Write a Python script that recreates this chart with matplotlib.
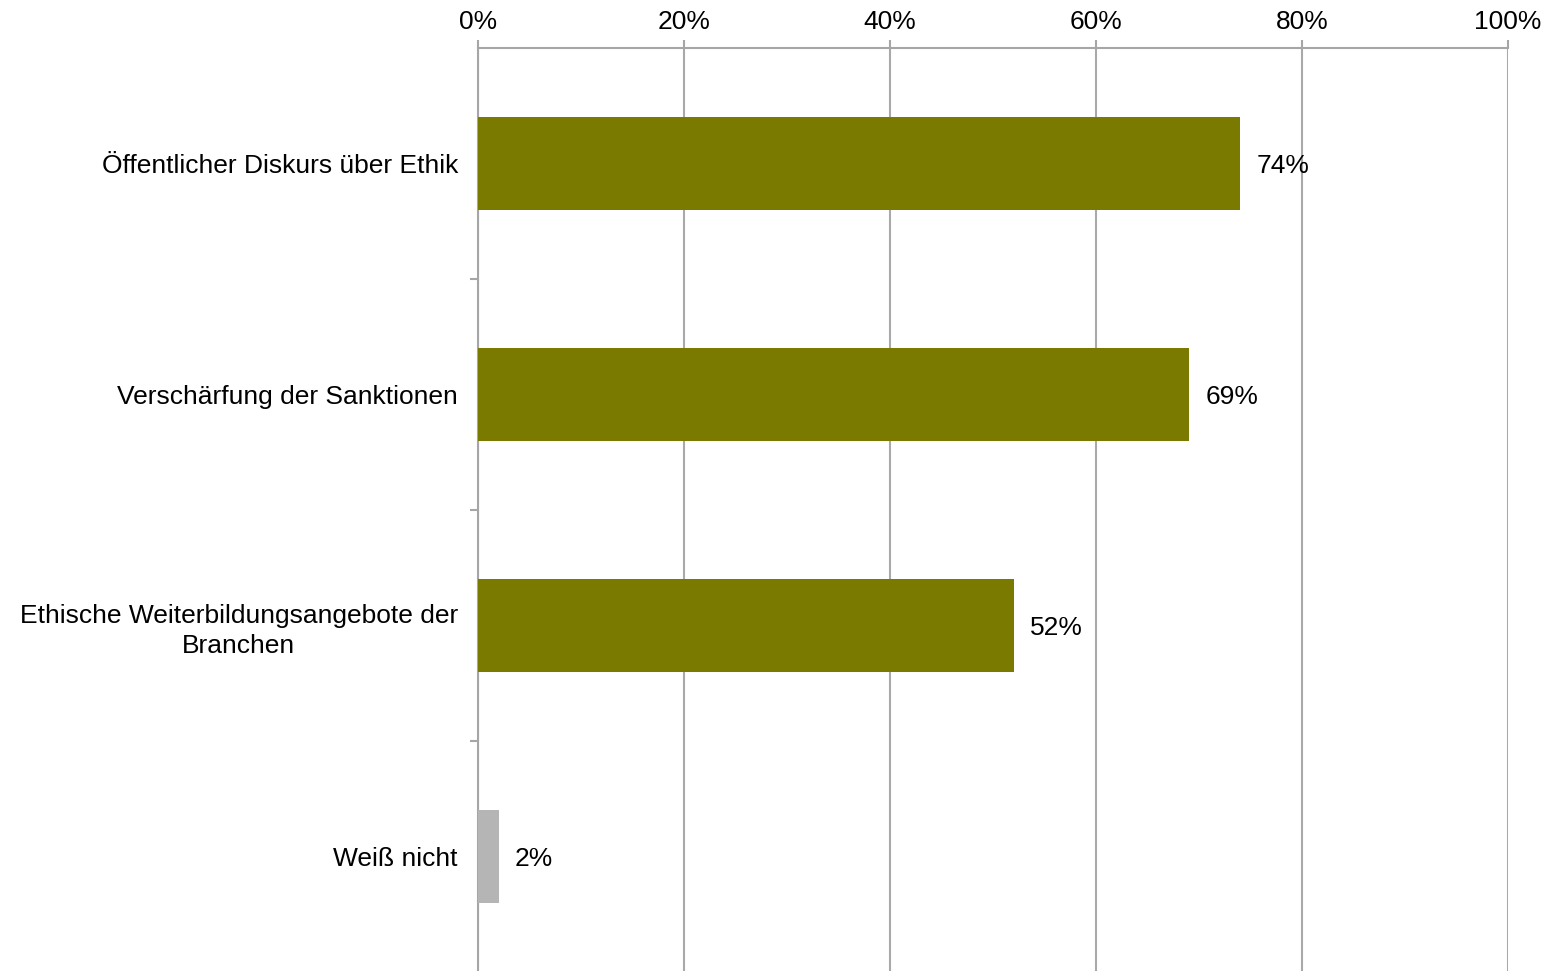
import matplotlib.pyplot as plt
from matplotlib.ticker import FixedLocator

plt.rcParams['font.family'] = ['Liberation Sans', 'DejaVu Sans']

# Antworten (von oben nach unten) und Anteile in Prozent
categories = ['Öffentlicher Diskurs über Ethik',
              'Verschärfung der Sanktionen',
              'Ethische Weiterbildungsangebote der\nBranchen',
              'Weiß nicht']
values = [74, 69, 52, 2]
colors = ['#7a7a00', '#7a7a00', '#7a7a00', '#b5b5b5']
xticks = [0, 20, 40, 60, 80, 100]

fig = plt.figure(figsize=(15.46, 9.71), dpi=100)
ax = fig.add_axes([0.3092, -0.001, 0.6662, 0.9516])

pos = list(range(len(categories)))
ax.barh(pos, values, height=0.4, color=colors, zorder=3)

for y, v in zip(pos, values):
    ax.text(v + 1.6, y, f'{v}%', va='center_baseline', ha='left', fontsize=19)

ax.set_xlim(0, 100)
ax.set_ylim(len(categories) - 0.5, -0.5)

ax.xaxis.tick_top()
ax.set_xticks(xticks)
ax.set_xticklabels([f'{t}%' for t in xticks], fontsize=19)
ax.tick_params(axis='x', length=6, width=1.5, color='#a6a6a6', pad=4)
ax.grid(axis='x', color='#a9a9a9', linewidth=1.5, zorder=0)

ax.set_yticks(pos)
ax.set_yticklabels(categories, fontsize=19, multialignment='center', linespacing=1.3)
ax.tick_params(axis='y', which='major', length=0, pad=14.5)
ax.yaxis.set_minor_locator(FixedLocator([0.5, 1.5, 2.5]))
ax.tick_params(axis='y', which='minor', length=6, width=1.5, color='#a6a6a6')

for side in ['right', 'bottom']:
    ax.spines[side].set_visible(False)
for side in ['top', 'left']:
    ax.spines[side].set_color('#a6a6a6')
    ax.spines[side].set_linewidth(1.5)

fig.savefig('out.png', dpi=100)
